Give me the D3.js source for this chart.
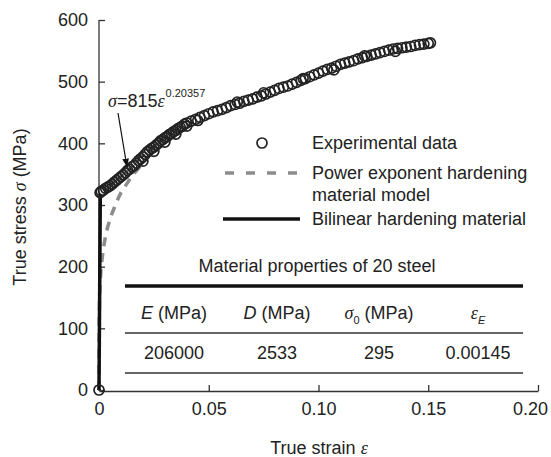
<!DOCTYPE html>
<meta charset="utf-8">
<style>
  body { margin: 0; background: #fff; }
  svg text { font-family: "Liberation Sans", Arial, sans-serif; fill: #222; }
</style>
<svg width="551" height="457"></svg>
<script src="https://d3js.org/d3.v7.min.js"></script>
<script>

// experimental points [strain, stress]
var expStrain = [0, 0.0005, 0.001, 0.002, 0.003, 0.004, 0.005, 0.006, 0.007, 0.008, 0.009, 0.010,
  0.011, 0.012, 0.013, 0.014, 0.015, 0.016, 0.017, 0.018, 0.019, 0.020, 0.021, 0.022, 0.023, 0.024,
  0.025, 0.026, 0.027, 0.028, 0.029, 0.030, 0.031, 0.032, 0.033, 0.034, 0.035, 0.036, 0.037, 0.038,
  0.039, 0.040, 0.042, 0.044, 0.046, 0.048, 0.050, 0.052, 0.054, 0.056, 0.058, 0.060, 0.062, 0.064,
  0.066, 0.068, 0.070, 0.072, 0.074, 0.076, 0.078, 0.080, 0.082, 0.084, 0.086, 0.088, 0.090, 0.092,
  0.094, 0.096, 0.098, 0.100, 0.102, 0.104, 0.106, 0.108, 0.110, 0.112, 0.114, 0.116, 0.118, 0.120,
  0.122, 0.124, 0.126, 0.128, 0.130, 0.132, 0.134, 0.136, 0.138, 0.140, 0.142, 0.144, 0.146, 0.148,
  0.150, 0.151,
  0.020, 0.025, 0.030, 0.035, 0.040, 0.045, 0.063, 0.075, 0.093, 0.107, 0.121, 0.135];
var expStress = [0, 320, 322, 324, 327, 329, 331, 334, 337, 340, 343, 346,
  349, 352, 356, 358, 362, 364, 368, 372, 375, 378, 382, 386, 389, 392,
  394, 397, 400, 404, 406, 409, 411, 414, 416, 419, 421, 424, 426, 428,
  431, 433, 436, 439, 442, 445, 448, 451, 453, 455, 458, 461, 463, 465,
  468, 470, 472, 475, 477, 480, 483, 486, 489, 491, 493, 496, 499, 502,
  505, 508, 511, 514, 517, 520, 522, 525, 528, 530, 532, 534, 537, 539,
  541, 543, 545, 547, 549, 551, 553, 554, 555, 556, 557, 559, 560, 561,
  562, 563,
  371, 387, 402, 415, 428, 437, 467, 482, 505, 519, 542, 549];

// power exponent hardening model, sigma = 815 eps^0.20357
var powStrain = [0, 0.0001, 0.0005, 0.001, 0.002, 0.003, 0.004, 0.006, 0.008, 0.010, 0.015, 0.020];
var powStress = [0, 125, 173, 200, 230, 250, 265, 287, 305, 320, 347, 368];

// bilinear hardening material (elastic branch)
var biStrain = [0, 0.0006];
var biStress = [0, 318];

var xTicks = [0, 0.05, 0.10, 0.15, 0.20];
var xTickLabels = ["0", "0.05", "0.10", "0.15", "0.20"];
var yTicks = [0, 100, 200, 300, 400, 500, 600];

var tableHead = ["E", "D", "σ", "ε"];
var tableVals = ["206000", "2533", "295", "0.00145"];

var svg = d3.select("svg");

var x = d3.scaleLinear().domain([0, 0.2]).range([99, 538]);
var y = d3.scaleLinear().domain([0, 600]).range([390, 20]);

var line = d3.line().x(function(d) { return x(d[0]); }).y(function(d) { return y(d[1]); });

// axes
var gx = svg.append("g")
    .attr("transform", "translate(0,391)")
    .call(d3.axisBottom(x).tickValues(xTicks)
      .tickFormat(function(d, i) { return xTickLabels[i]; })
      .tickSizeInner(-6).tickSizeOuter(0).tickPadding(11));

var gy = svg.append("g")
    .attr("transform", "translate(99,0)")
    .call(d3.axisLeft(y).tickValues(yTicks)
      .tickSizeInner(-6).tickSizeOuter(0).tickPadding(11));

svg.selectAll(".domain, .tick line").attr("stroke", "#333").attr("stroke-width", 1.3);
svg.selectAll(".tick text").attr("font-size", 18).attr("font-family", "Liberation Sans, Arial, sans-serif").attr("fill", "#222");
gy.select(".domain").attr("d", "M0,391V20");
// last x label is pulled in so it stays on the page
gx.selectAll(".tick text").filter(function(d) { return d === 0.2; }).attr("dx", -8);

// series
svg.append("path")
    .datum(d3.zip(powStrain, powStress))
    .attr("d", line)
    .attr("fill", "none")
    .attr("stroke", "#8c8c8c")
    .attr("stroke-width", 3.5)
    .attr("stroke-dasharray", "9,7");

svg.append("path")
    .datum(d3.zip(biStrain, biStress))
    .attr("d", line)
    .attr("fill", "none")
    .attr("stroke", "#111")
    .attr("stroke-width", 3.5);

svg.append("g").selectAll("circle")
    .data(d3.zip(expStrain, expStress))
  .enter().append("circle")
    .attr("cx", function(d) { return x(d[0]); })
    .attr("cy", function(d) { return y(d[1]); })
    .attr("r", 5)
    .attr("fill", "none")
    .attr("stroke", "#222")
    .attr("stroke-width", 1.7);

// axis titles
svg.append("text")
    .attr("x", 319).attr("y", 454)
    .attr("text-anchor", "middle").attr("font-size", 18)
    .html('True strain <tspan font-family="Liberation Serif, serif" font-style="italic">ε</tspan>');

svg.append("text")
    .attr("transform", "translate(26,207) rotate(-90)")
    .attr("text-anchor", "middle").attr("font-size", 18)
    .html('True stress <tspan font-family="Liberation Serif, serif" font-style="italic">σ</tspan> (MPa)');

// annotation
svg.append("defs").append("marker")
    .attr("id", "arr").attr("viewBox", "0 0 10 10")
    .attr("refX", 10).attr("refY", 5)
    .attr("markerWidth", 7).attr("markerHeight", 7)
    .attr("orient", "auto")
  .append("path").attr("d", "M0,1L10,5L0,9z").attr("fill", "#111");

svg.append("line")
    .attr("x1", 118).attr("y1", 113).attr("x2", 127).attr("y2", 167)
    .attr("stroke", "#111").attr("stroke-width", 1.2)
    .attr("marker-end", "url(#arr)");

var ann = svg.append("text").attr("x", 108).attr("y", 107).attr("font-size", 18);
ann.append("tspan").attr("font-family", "Liberation Serif, serif").attr("font-style", "italic").text("σ");
ann.append("tspan").text("=815");
ann.append("tspan").attr("font-family", "Liberation Serif, serif").attr("font-style", "italic").text("ε");
ann.append("tspan").attr("font-size", 11).attr("dy", -10).attr("dx", 1).text("0.20357");

// legend
var lg = svg.append("g");
lg.append("circle").attr("cx", 262).attr("cy", 143).attr("r", 5)
    .attr("fill", "none").attr("stroke", "#222").attr("stroke-width", 1.7);
lg.append("line").attr("x1", 225).attr("x2", 300).attr("y1", 173).attr("y2", 173)
    .attr("stroke", "#8c8c8c").attr("stroke-width", 3.5).attr("stroke-dasharray", "9,12");
lg.append("line").attr("x1", 223).attr("x2", 300).attr("y1", 219).attr("y2", 219)
    .attr("stroke", "#111").attr("stroke-width", 3.5);
var legendText = [["Experimental data", 143], ["Power exponent hardening", 173], ["material model", 195], ["Bilinear hardening material", 219]];
lg.selectAll("text.lt").data(legendText).enter().append("text")
    .attr("class", "lt")
    .attr("x", 312).attr("y", function(d) { return d[1]; })
    .attr("dy", "0.35em").attr("font-size", 18)
    .text(function(d) { return d[0]; });

// properties table
var colX = [174, 277, 379, 478];
var tb = svg.append("g");
tb.append("text").attr("x", 317).attr("y", 266).attr("dy", "0.35em")
    .attr("text-anchor", "middle").attr("font-size", 18).text("Material properties of 20 steel");
tb.append("line").attr("x1", 125).attr("x2", 523).attr("y1", 286).attr("y2", 286)
    .attr("stroke", "#111").attr("stroke-width", 3.5);
[333, 373].forEach(function(yy) {
  tb.append("line").attr("x1", 125).attr("x2", 523).attr("y1", yy).attr("y2", yy)
      .attr("stroke", "#333").attr("stroke-width", 1.5);
});

tableHead.forEach(function(h, i) {
  var t = tb.append("text").attr("x", colX[i]).attr("y", 313).attr("dy", "0.35em")
      .attr("text-anchor", "middle").attr("font-size", 18);
  if (i < 2) {
    t.append("tspan").attr("font-style", "italic").text(h);
    t.append("tspan").text(" (MPa)");
  } else if (i === 2) {
    t.append("tspan").attr("font-family", "Liberation Serif, serif").attr("font-style", "italic").text(h);
    t.append("tspan").attr("font-size", 11).attr("dy", 5).text("0");
    t.append("tspan").attr("dy", -5).text(" (MPa)");
  } else {
    t.append("tspan").attr("font-family", "Liberation Serif, serif").attr("font-style", "italic").text(h);
    t.append("tspan").attr("font-size", 11).attr("font-style", "italic").attr("dy", 5).text("E");
  }
});

tb.selectAll("text.val").data(tableVals).enter().append("text")
    .attr("class", "val")
    .attr("x", function(d, i) { return colX[i]; })
    .attr("y", 353).attr("dy", "0.35em")
    .attr("text-anchor", "middle").attr("font-size", 18)
    .text(function(d) { return d; });

</script>
